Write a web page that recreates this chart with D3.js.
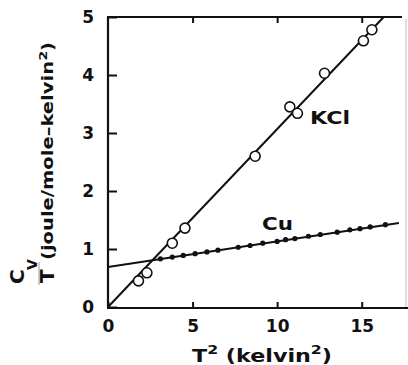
<!DOCTYPE html>
<html>
<head>
<meta charset="utf-8">
<script src="https://cdn.jsdelivr.net/npm/d3@7"></script>
<style>
  body { margin: 0; background: #fff; }
  text { font-family: "DejaVu Sans", "Liberation Sans", Arial, sans-serif; font-weight: bold; fill: #111; }
</style>
</head>
<body>
<div id="chart"></div>
<script>
// KCl: open circles
var kclT2 = [1.8, 2.3, 3.8, 4.55, 8.7, 10.75, 11.2, 12.8, 15.1, 15.6];
var kclCT = [0.45, 0.59, 1.10, 1.36, 2.60, 3.45, 3.34, 4.03, 4.59, 4.78];
// Cu: small filled dots
var cuT2 = [3.1, 3.8, 4.45, 5.15, 5.85, 6.5, 7.7, 8.4, 9.15, 10.0, 10.5, 11.05, 11.85, 12.55, 13.55, 14.3, 14.9, 15.5, 16.4];
var cuCT = [0.83, 0.86, 0.89, 0.92, 0.95, 0.98, 1.03, 1.06, 1.10, 1.13, 1.16, 1.18, 1.22, 1.25, 1.29, 1.33, 1.35, 1.38, 1.42];
// fitted lines (end points)
var kclFit = [[0, 0], [16.3, 5]];
var cuFit = [[0, 0.69], [17.2, 1.45]];
var xTicks = [0, 5, 10, 15];
var yTicks = [0, 1, 2, 3, 4, 5];

function draw() {
    var W = 408, H = 365;
    var pLeft = 108, pRight = 404, pTop = 17, pBottom = 307;

    var svg = d3.select("#chart").append("svg")
        .attr("width", W)
        .attr("height", H);

    var x = d3.scaleLinear().domain([0, 17.5]).range([pLeft, pRight]);
    var y = d3.scaleLinear().domain([0, 5]).range([pBottom, pTop]);

    // frame
    svg.append("line").attr("x1", pLeft).attr("x2", pLeft).attr("y1", pTop).attr("y2", pBottom + 1)
        .attr("stroke", "#111").attr("stroke-width", 2.2);
    svg.append("line").attr("x1", pLeft - 1).attr("x2", W).attr("y1", pBottom + 1).attr("y2", pBottom + 1)
        .attr("stroke", "#111").attr("stroke-width", 2.2);
    svg.append("line").attr("x1", pLeft - 1).attr("x2", 402).attr("y1", pTop).attr("y2", pTop)
        .attr("stroke", "#111").attr("stroke-width", 1.8);
    svg.append("line").attr("x1", 406).attr("x2", 406).attr("y1", pTop + 2).attr("y2", pBottom)
        .attr("stroke", "#bbb").attr("stroke-width", 1);

    // y axis ticks + labels
    var yAxis = d3.axisLeft(y).tickValues(yTicks).tickSize(-9).tickPadding(14).tickFormat(d3.format("d"));
    var gy = svg.append("g").attr("transform", "translate(" + pLeft + ",0)").call(yAxis);
    gy.select(".domain").remove();
    gy.selectAll(".tick line").attr("stroke", "#111").attr("stroke-width", 2);
    gy.selectAll(".tick text").style("font-size", "17px").attr("fill", "#111")
        .style("font-family", "DejaVu Sans, sans-serif");

    // x axis ticks + labels
    var xAxis = d3.axisBottom(x).tickValues(xTicks).tickSize(-6).tickPadding(12).tickFormat(d3.format("d"));
    var gx = svg.append("g").attr("transform", "translate(0," + (pBottom + 1) + ")").call(xAxis);
    gx.select(".domain").remove();
    gx.selectAll(".tick line").attr("stroke", "#111").attr("stroke-width", 2);
    gx.selectAll(".tick text").style("font-size", "17px").attr("fill", "#111")
        .style("font-family", "DejaVu Sans, sans-serif");

    // top ticks
    var gt = svg.append("g").attr("transform", "translate(0," + pTop + ")")
        .call(d3.axisTop(x).tickValues(xTicks.slice(1)).tickSize(-6).tickFormat(""));
    gt.select(".domain").remove();
    gt.selectAll(".tick line").attr("stroke", "#111").attr("stroke-width", 2);

    // fit lines
    var line = d3.line().x(d => x(d[0])).y(d => y(d[1]));
    svg.append("path").datum(kclFit).attr("d", line)
        .attr("fill", "none").attr("stroke", "#111").attr("stroke-width", 2);
    svg.append("path").datum(cuFit).attr("d", line)
        .attr("fill", "none").attr("stroke", "#111").attr("stroke-width", 2);

    // Cu points
    svg.selectAll(".cu").data(cuT2).enter().append("circle")
        .attr("class", "cu")
        .attr("cx", d => x(d))
        .attr("cy", (d, i) => y(cuCT[i]))
        .attr("r", 2.6)
        .attr("fill", "#111");

    // KCl points
    svg.selectAll(".kcl").data(kclT2).enter().append("circle")
        .attr("class", "kcl")
        .attr("cx", d => x(d))
        .attr("cy", (d, i) => y(kclCT[i]))
        .attr("r", 5)
        .attr("fill", "#fff")
        .attr("stroke", "#111")
        .attr("stroke-width", 1.6);

    // series labels
    svg.append("text").attr("x", 310).attr("y", 124).style("font-size", "17px")
        .attr("textLength", 40).attr("lengthAdjust", "spacingAndGlyphs").text("KCl");
    svg.append("text").attr("x", 262).attr("y", 230).style("font-size", "18px")
        .attr("textLength", 31).attr("lengthAdjust", "spacingAndGlyphs").text("Cu");

    // x label
    var xl = svg.append("text").attr("x", 192).attr("y", 362).style("font-size", "17px")
        .attr("textLength", 140).attr("lengthAdjust", "spacingAndGlyphs");
    xl.append("tspan").text("T");
    xl.append("tspan").attr("dy", -8).style("font-size", "12px").text("2");
    xl.append("tspan").attr("dy", 8).text(" (kelvin");
    xl.append("tspan").attr("dy", -8).style("font-size", "12px").text("2");
    xl.append("tspan").attr("dy", 8).text(")");

    // y label (rotated fraction)
    var yl = svg.append("g").attr("transform", "rotate(-90)");
    yl.append("text").attr("x", -284).attr("y", 24).style("font-size", "20px").text("C");
    yl.append("text").attr("x", -270).attr("y", 37).style("font-size", "14px").text("V");
    yl.append("line").attr("x1", -285).attr("x2", -262).attr("y1", 39).attr("y2", 39)
        .attr("stroke", "#999").attr("stroke-width", 1);
    yl.append("text").attr("x", -283).attr("y", 54).style("font-size", "20px").text("T");
    var yt = yl.append("text").attr("x", -260).attr("y", 53).style("font-size", "15px")
        .attr("textLength", 218).attr("lengthAdjust", "spacingAndGlyphs");
    yt.append("tspan").text("(joule/mole\u2013kelvin");
    yt.append("tspan").attr("dy", -6).style("font-size", "11px").text("2");
    yt.append("tspan").attr("dy", 6).text(")");
}

draw();
</script>
</body>
</html>
